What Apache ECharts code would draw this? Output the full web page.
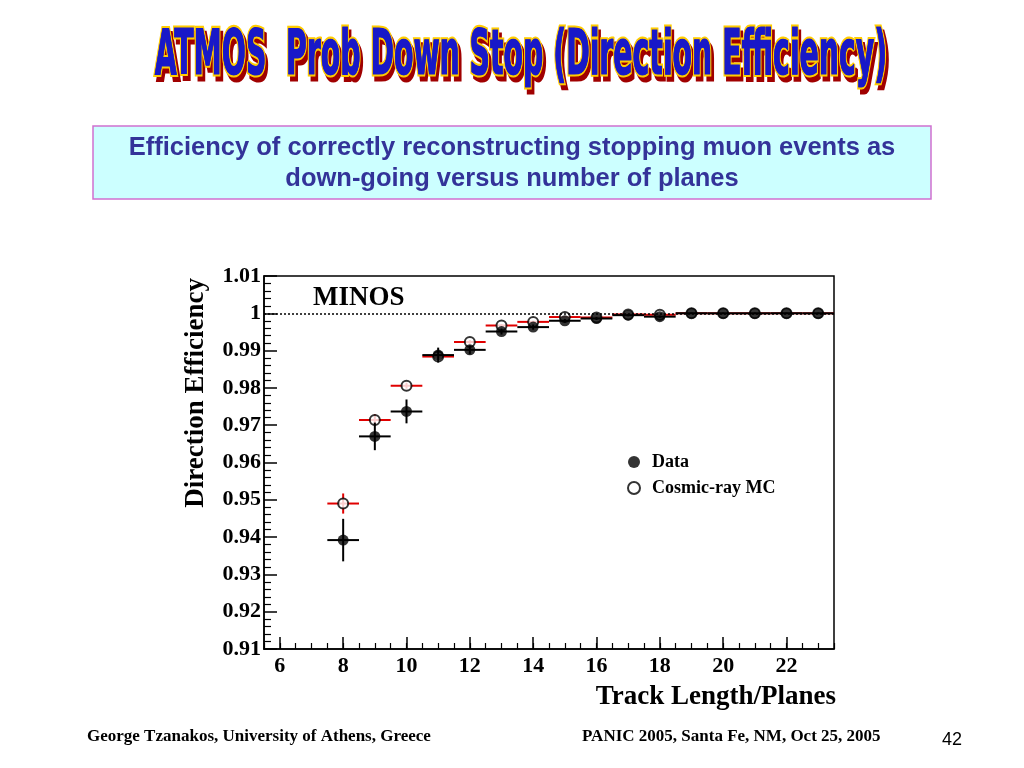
<!DOCTYPE html>
<html>
<head>
<meta charset="utf-8">
<script src="https://cdn.jsdelivr.net/npm/echarts@6/dist/echarts.min.js"></script>
<style>
html,body{margin:0;padding:0;background:#fff;}
#c{width:1024px;height:768px;}
</style>
</head>
<body>
<div id="c"></div>
<script>
// ---- data ----
const planes   = [8, 9, 10, 11, 12, 13, 14, 15, 16, 17, 18, 19, 20, 21, 22, 23];
const dataEff  = [0.9392, 0.9670, 0.9737, 0.9888, 0.9902, 0.9951, 0.9963, 0.9980, 0.9986, 0.9995, 0.9991, 1.0, 1.0, 1.0, 1.0, 1.0];
const dataErr  = [0.0057, 0.0037, 0.0032, 0.0020, 0.0012, 0.0008, 0.0007, 0.0005, 0.0004, 0.0003, 0.0003, 0.0002, 0.0002, 0.0002, 0.0002, 0.0002];
const mcEff    = [0.9490, 0.9714, 0.9806, 0.9884, 0.9923, 0.9967, 0.9977, 0.9990, 0.9989, 0.9997, 0.9996, 1.0, 1.0, 1.0, 1.0, 1.0];
const mcErr    = [0.0027, 0.0015, 0.0008, 0.0006, 0.0005, 0.0004, 0.0003, 0.0003, 0.0002, 0.0002, 0.0002, 0.0001, 0.0001, 0.0001, 0.0001, 0.0001];
const binHalfWidth = 0.5;
const xMajorTicks = [6, 8, 10, 12, 14, 16, 18, 20, 22];

const titleText = 'ATMOS  Prob Down Stop (Direction Efficiency)';
const subLine1 = 'Efficiency of correctly reconstructing stopping muon events as';
const subLine2 = 'down-going versus number of planes';
const footLeft = 'George Tzanakos, University of Athens, Greece';
const footMid = 'PANIC 2005, Santa Fe, NM, Oct 25, 2005';
const pageNo = '42';

const dataPts = planes.map((p, i) => [p, dataEff[i], dataErr[i]]);
const mcPts = planes.map((p, i) => [p, mcEff[i], mcErr[i]]);

function errBar(color) {
  return function (params, api) {
    const x = api.value(0), y = api.value(1), e = api.value(2);
    const l = api.coord([x - binHalfWidth, y]);
    const r = api.coord([x + binHalfWidth, y]);
    const t = api.coord([x, y + e]);
    const b = api.coord([x, y - e]);
    return {
      type: 'group',
      children: [
        { type: 'line', shape: { x1: l[0], y1: l[1], x2: r[0], y2: r[1] }, style: { stroke: color, lineWidth: 2 } },
        { type: 'line', shape: { x1: t[0], y1: t[1], x2: b[0], y2: b[1] }, style: { stroke: color, lineWidth: 2 } }
      ]
    };
  };
}

const serif = 'Liberation Serif';
const titleFont = 'DejaVu Sans Condensed';
const chart = echarts.init(document.getElementById('c'), null, { renderer: 'canvas' });

chart.setOption({
  animation: false,
  backgroundColor: '#ffffff',
  grid: { left: 264, right: 190, top: 276, bottom: 119, show: true, borderColor: '#000', borderWidth: 1.5, backgroundColor: 'transparent' },
  xAxis: [
    {
      type: 'value', min: 5.5, max: 23.5,
      axisLine: { show: true, onZero: false, lineStyle: { color: '#000', width: 1.5 } },
      axisTick: { show: true, inside: true, length: 12, customValues: xMajorTicks, lineStyle: { color: '#000', width: 1.5 } },
      axisLabel: { show: true, customValues: xMajorTicks, margin: 6, color: '#000', fontFamily: serif, fontWeight: 'bold', fontSize: 22 },
      splitLine: { show: false }
    },
    {
      type: 'value', min: 5.5, max: 23.5, interval: 0.5, position: 'bottom',
      axisLine: { show: false },
      axisTick: { show: true, inside: true, length: 6, lineStyle: { color: '#000', width: 1.2 } },
      axisLabel: { show: false },
      splitLine: { show: false }
    }
  ],
  yAxis: {
    type: 'value', min: 0.91, max: 1.01, interval: 0.01,
    axisLine: { show: true, onZero: false, lineStyle: { color: '#000', width: 1.5 } },
    axisTick: { show: true, inside: true, length: 13, lineStyle: { color: '#000', width: 1.5 } },
    minorTick: { show: true, splitNumber: 5, length: 7, lineStyle: { color: '#000', width: 1.2 } },
    axisLabel: {
      margin: 3, color: '#000', fontFamily: serif, fontWeight: 'bold', fontSize: 22,
      formatter: v => String(parseFloat(v.toFixed(2)))
    },
    splitLine: { show: false }
  },
  legend: {
    orient: 'vertical', left: 627, top: 453, padding: 0, itemWidth: 12, itemHeight: 12, itemGap: 8,
    data: [{ name: 'Data', icon: 'circle' }, { name: 'Cosmic-ray MC', icon: 'emptyCircle' }],
    textStyle: { color: '#000', fontFamily: serif, fontWeight: 'bold', fontSize: 18, padding: [0, 0, 0, 7] },
    selectedMode: false
  },
  series: [
    {
      type: 'custom', name: 'mcErr', data: mcPts, renderItem: errBar('#e00000'), z: 2,
      encode: { x: 0, y: 1 },
      markLine: {
        silent: true, symbol: 'none', label: { show: false },
        lineStyle: { type: [2, 2], color: '#000', width: 1.5 },
        data: [{ yAxis: 1 }]
      }
    },
    {
      type: 'scatter', name: 'Cosmic-ray MC', data: mcPts, symbol: 'emptyCircle', symbolSize: 10, z: 3,
      itemStyle: { color: '#000', borderColor: '#000', borderWidth: 1.5 }
    },
    {
      type: 'custom', name: 'dataErr', data: dataPts, renderItem: errBar('#000'), z: 4,
      encode: { x: 0, y: 1 }
    },
    {
      type: 'scatter', name: 'Data', data: dataPts, symbol: 'circle', symbolSize: 11, z: 5,
      itemStyle: { color: '#000' }
    }
  ],
  graphic: [
    // WordArt title: shadow, then outlined blue text
    {
      type: 'group', x: 521, y: 58, scaleX: 0.525, scaleY: 1.05, z: 10,
      children: [
        { type: 'text', x: 5, y: 4, style: { text: titleText, fontFamily: titleFont, fontWeight: 'bold', fontSize: 60, fill: '#a00000', stroke: '#a00000', lineWidth: 5, align: 'center', verticalAlign: 'middle' } },
        { type: 'text', x: 0, y: 0, style: { text: titleText, fontFamily: titleFont, fontWeight: 'bold', fontSize: 60, fill: '#1818c8', stroke: '#ffcc00', lineWidth: 5, align: 'center', verticalAlign: 'middle' } },
        { type: 'text', x: 0, y: 0, style: { text: titleText, fontFamily: titleFont, fontWeight: 'bold', fontSize: 60, fill: '#1818c8', stroke: '#1818c8', lineWidth: 1, align: 'center', verticalAlign: 'middle' } }
      ]
    },
    // subtitle box
    { type: 'rect', shape: { x: 93, y: 126, width: 838, height: 73 }, style: { fill: '#ccffff', stroke: '#d070d0', lineWidth: 1.5 }, z: 10 },
    { type: 'text', x: 512, y: 148, style: { text: subLine1, fontFamily: 'Liberation Sans', fontWeight: 'bold', fontSize: 25.5, fill: '#333399', align: 'center', verticalAlign: 'middle' }, z: 11 },
    { type: 'text', x: 512, y: 179, style: { text: subLine2, fontFamily: 'Liberation Sans', fontWeight: 'bold', fontSize: 25.5, fill: '#333399', align: 'center', verticalAlign: 'middle' }, z: 11 },
    // MINOS label
    { type: 'text', x: 313, y: 298, style: { text: 'MINOS', fontFamily: serif, fontWeight: 'bold', fontSize: 27, fill: '#000', align: 'left', verticalAlign: 'middle' }, z: 11 },
    // axis titles
    { type: 'text', x: 196, y: 278, rotation: Math.PI / 2, style: { text: 'Direction Efficiency', fontFamily: serif, fontWeight: 'bold', fontSize: 27, fill: '#000', align: 'right', verticalAlign: 'middle' }, z: 11 },
    { type: 'text', x: 836, y: 697, style: { text: 'Track Length/Planes', fontFamily: serif, fontWeight: 'bold', fontSize: 27, fill: '#000', align: 'right', verticalAlign: 'middle' }, z: 11 },
    // footer
    { type: 'text', x: 87, y: 737, style: { text: footLeft, fontFamily: serif, fontWeight: 'bold', fontSize: 17, fill: '#000', align: 'left', verticalAlign: 'middle' }, z: 11 },
    { type: 'text', x: 582, y: 737, style: { text: footMid, fontFamily: serif, fontWeight: 'bold', fontSize: 17, fill: '#000', align: 'left', verticalAlign: 'middle' }, z: 11 },
    { type: 'text', x: 962, y: 740, style: { text: pageNo, fontFamily: 'Liberation Sans', fontSize: 18, fill: '#000', align: 'right', verticalAlign: 'middle' }, z: 11 }
  ]
});
</script>
</body>
</html>
